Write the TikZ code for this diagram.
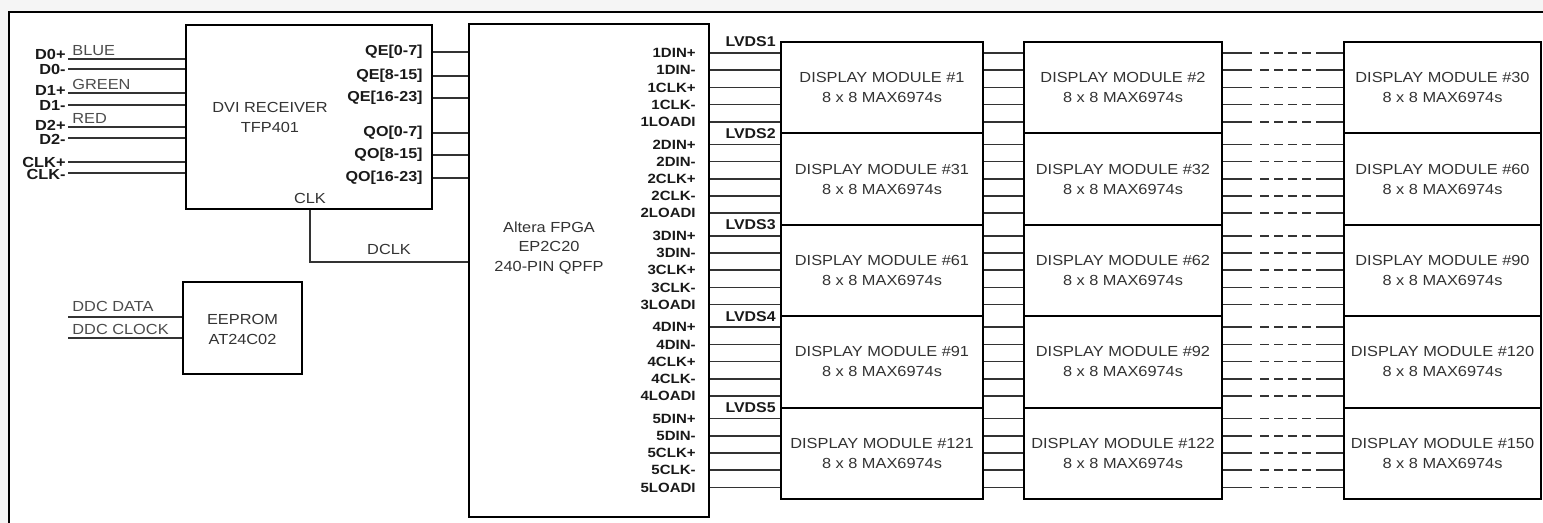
\documentclass[tikz,border=0pt]{standalone}
\usepackage{fontspec}
\setmainfont{Liberation Sans}[FakeStretch=1.12]
\usetikzlibrary{calc}
\begin{document}
\begin{tikzpicture}[x=0.5pt,y=-0.5pt,
  box/.style={draw=black, line width=1pt, inner sep=0pt},
  wire/.style={draw=black!80, line width=0.75pt},
  dwire/.style={wire, dash pattern=on 4.5pt off 2.5pt},
  txt/.style={font=\fontsize{7.3pt}{10pt}\selectfont, text=black!80, align=center, inner sep=0pt},
  pinlab/.style={font=\bfseries\fontsize{6.7pt}{7pt}\selectfont, text=black!90, anchor=east, inner sep=0pt},
  sig/.style={font=\bfseries\fontsize{7.3pt}{8pt}\selectfont, text=black!90, anchor=east, inner sep=0pt},
  collab/.style={font=\fontsize{7.3pt}{8pt}\selectfont, text=black!70, anchor=west, inner sep=0pt},
  lvds/.style={font=\bfseries\fontsize{7.1pt}{8pt}\selectfont, text=black!90, anchor=east, inner sep=0pt},
  module/.style={box, txt, minimum height=45.7pt},
]
\useasboundingbox (0,0) rectangle (1543,523);
\fill[black!4] (0,0) rectangle (1543,523);
\fill[white] (9,12) rectangle (1543,523);
\draw[line width=1.25pt] (9,523) -- (9,12) -- (1543,12);

% main blocks
\node[box, minimum width=123pt, minimum height=92pt] (dvi) at (309,117) {};
\node[txt] (dvit) at (270,117) {DVI RECEIVER\\TFP401};
\node[box, minimum width=120pt, minimum height=246.5pt] (fpga) at (589,270.5) {};
\node[txt, font=\fontsize{7.3pt}{9.7pt}\selectfont] (fpgat) at (549,248) {Altera FPGA\\EP2C20\\240-PIN QPFP};
\node[box, minimum width=59.5pt, minimum height=46pt] (ee) at (242.5,328) {};
\node[txt] (eet) at (242.5,329) {EEPROM\\AT24C02};

% DVI inputs
\foreach \n/\y/\ly [count=\i] in {D0+/59/54, D0-/69/69, D1+/93/90, D1-/105/105, D2+/127/125, D2-/138/139, CLK+/162/162, CLK-/173/174} {
  \coordinate (in\i) at (68,\y);
  \draw[wire] (in\i) -- (dvi.west |- in\i);
  \node[sig] (inl\i) at (66,\ly) {\n};
}
\node[collab] (blue) at (72,51) {BLUE};
\node[collab] (green) at (72,84) {GREEN};
\node[collab] (red) at (72,118) {RED};

% DVI outputs
\foreach \n/\y [count=\i] in {{QE[0-7]}/52, {QE[8-15]}/76, {QE[16-23]}/98, {QO[0-7]}/133, {QO[8-15]}/155, {QO[16-23]}/178} {
  \coordinate (q\i) at (423,\y);
  \node[sig, font=\bfseries\fontsize{7.2pt}{8pt}\selectfont] (ql\i) at (q\i) {\n};
  \draw[wire] (dvi.east |- q\i) -- (fpga.west |- q\i);
}

% clock
\node[txt] (clkl) at (310,198) {CLK};
\coordinate (dclk) at (310,262);
\draw[wire] (dvi.south -| dclk) -- (dclk) -- (fpga.west |- dclk);
\node[txt] (dclkl) at (389,249) {DCLK};

% EEPROM
\coordinate (ddcd) at (68,317);
\coordinate (ddcc) at (68,338);
\draw[wire] (ddcd) -- (ee.west |- ddcd);
\draw[wire] (ddcc) -- (ee.west |- ddcc);
\node[collab] (ddcdl) at (72,306) {DDC DATA};
\node[collab] (ddccl) at (72,329) {DDC CLOCK};

% display modules
\foreach \g in {1,...,5} {
  \pgfmathsetmacro\rt{42+91.4*(\g-1)}
  \pgfmathsetmacro\rc{\rt+45.7}
  \pgfmathtruncatemacro\na{30*(\g-1)+1}
  \pgfmathtruncatemacro\nb{30*(\g-1)+2}
  \pgfmathtruncatemacro\nc{30*\g}
  \node[module, minimum width=101pt] (m\g a) at (882,\rc) {DISPLAY MODULE \#\na\\8 x 8 MAX6974s};
  \node[module, minimum width=99pt] (m\g b) at (1123,\rc) {DISPLAY MODULE \#\nb\\8 x 8 MAX6974s};
  \node[module, minimum width=98.5pt] (m\g c) at (1442.5,\rc) {DISPLAY MODULE \#\nc\\8 x 8 MAX6974s};
  \node[lvds] (lv\g) at (776,\rt) {LVDS\g};
  \foreach \s [count=\i] in {DIN+,DIN-,CLK+,CLK-,LOADI} {
    \pgfmathsetmacro\py{\rt+11+17.2*(\i-1)}
    \coordinate (p\g-\i) at (709,\py);
    \node[pinlab] (pl\g-\i) at (696,\py) {\g\s};
    \draw[wire] (fpga.east |- p\g-\i) -- (m\g a.west |- p\g-\i);
    \draw[wire] (m\g a.east |- p\g-\i) -- (m\g b.west |- p\g-\i);
    \draw[wire] (m\g b.east |- p\g-\i) -- ++(29,0);
    \draw[dwire] ($(m\g b.east |- p\g-\i)+(37,0)$) -- ++(51,0);
    \draw[wire] ($(m\g c.west |- p\g-\i)+(-27,0)$) -- (m\g c.west |- p\g-\i);
  }
}
\end{tikzpicture}
\end{document}
